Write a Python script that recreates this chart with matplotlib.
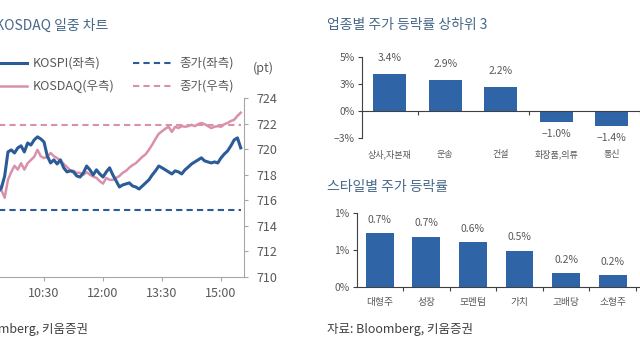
import numpy as np
import matplotlib.pyplot as plt

plt.rcParams['font.family'] = ['Noto Sans CJK KR', 'DejaVu Sans']

# intraday, 5-minute points from 09:00 (minutes after midnight)
times = np.arange(540, 935, 5)
kospi = [2476.0, 2473.3, 2474.8, 2472.1, 2473.3, 2474.8, 2479.5, 2488.9, 2489.7, 2488.5,
         2490.5, 2491.3, 2488.9, 2492.4, 2491.6, 2493.6, 2494.8, 2494.0, 2492.8, 2487.3,
         2484.6, 2485.8, 2484.2, 2485.8, 2482.7, 2481.1, 2481.5, 2481.1, 2479.5, 2479.1,
         2480.7, 2483.4, 2481.9, 2479.9, 2481.9, 2480.3, 2479.1, 2481.1, 2482.7, 2479.9,
         2477.6, 2475.2, 2476.0, 2476.4, 2476.8, 2475.6, 2475.2, 2474.4, 2475.6, 2476.8,
         2478.0, 2479.9, 2481.5, 2483.4, 2482.7, 2481.9, 2481.1, 2480.3, 2481.5, 2481.1,
         2480.3, 2481.9, 2483.0, 2484.2, 2485.0, 2485.8, 2486.6, 2485.4, 2485.0, 2484.6,
         2485.0, 2484.6, 2486.6, 2488.1, 2489.3, 2491.3, 2493.6, 2494.4, 2490.5]
kosdaq = [717.6, 717.2, 717.75, 717.0, 717.35, 716.8, 716.2, 717.6, 718.2, 718.7,
          718.4, 718.9, 718.4, 718.9, 719.15, 719.4, 719.95, 719.45, 719.3, 719.4,
          719.7, 719.45, 719.3, 719.1, 718.85, 718.6, 718.35, 718.3, 718.15, 718.15,
          718.0, 718.2, 718.0, 717.85, 717.75, 717.5, 717.3, 717.75, 717.6, 717.6,
          717.75, 717.9, 718.15, 718.3, 718.55, 718.75, 718.9, 719.15, 719.4, 719.6,
          719.95, 720.35, 720.8, 721.2, 721.4, 721.6, 721.75, 721.35, 721.75, 721.65,
          721.8, 721.75, 721.8, 721.9, 721.8, 721.95, 722.05, 721.95, 721.8, 721.65,
          721.75, 721.8, 721.75, 721.95, 722.05, 722.2, 722.3, 722.6, 722.85]
kospi_prev = 2466.3
kosdaq_prev = 721.9
time_ticks = [630, 720, 810, 900]
time_labels = ['10:30', '12:00', '13:30', '15:00']

sectors = ['상사,자본재', '운송', '건설', '화장품,의류', '통신']
sector_chg = [3.4, 2.9, 2.2, -1.0, -1.4]
sector_ticks = [-2.5, 0, 2.5, 5]
sector_ticklabels = ['−3%', '0%', '3%', '5%']

styles = ['대형주', '성장', '모멘텀', '가치', '고배당', '소형주']
style_chg = [0.73, 0.68, 0.61, 0.49, 0.19, 0.16]
style_ticks = [0, 0.5, 1.0]
style_ticklabels = ['0%', '1%', '1%']

GRAY = '#595959'
LIGHT = '#a6a6a6'
DARK = '#404040'
TITLE = '#46688a'
BLUE = '#2b5c98'
PINK = '#d991ab'
BAR = '#2f65a7'

fig = plt.figure(figsize=(6.4, 3.6), dpi=100)

# ---- intraday chart (left, partly cut off) ----
ax = fig.add_axes([-15/640, 1-277/360, 259/640, 179/360])
ax2 = ax.twinx()
ax.set_zorder(ax2.get_zorder() + 1)
ax.patch.set_visible(False)

dash = (0, (3, 2))
l1, = ax.plot(times, kospi, color=BLUE, lw=2.2, label='KOSPI(좌측)')
l2 = ax.hlines(kospi_prev, times[0], times[-1], color=BLUE, lw=1.5, linestyles=[dash], label='종가(좌측)')
l3, = ax2.plot(times, kosdaq, color=PINK, lw=1.8, label='KOSDAQ(우측)')
l4 = ax2.hlines(kosdaq_prev, times[0], times[-1], color=PINK, lw=1.5, linestyles=[dash], label='종가(우측)')

ax.set_xlim(540, 935)
ax.set_ylim(2440, 2510)
ax2.set_ylim(710, 724)
ax2.set_yticks(range(710, 725, 2))
for a in (ax, ax2):
    for s in a.spines.values():
        s.set_visible(False)
ax.spines['bottom'].set_visible(True)
ax.spines['bottom'].set_color(LIGHT)
ax2.spines['right'].set_visible(True)
ax2.spines['right'].set_color(LIGHT)
ax.tick_params(axis='y', left=False, labelleft=False)
ax.set_xticks(time_ticks, time_labels)
ax.tick_params(axis='x', length=3, color=LIGHT, labelsize=9, labelcolor=GRAY, pad=4)
ax2.tick_params(axis='y', length=3, color=LIGHT, labelsize=9, labelcolor=GRAY, pad=6)

fig.legend([l1, l3, l2, l4], ['KOSPI(좌측)', 'KOSDAQ(우측)', '종가(좌측)', '종가(우측)'],
           ncol=2, loc='upper left', bbox_to_anchor=(-14/640, 1-57/360), frameon=False,
           fontsize=9, labelcolor=GRAY, handlelength=3.3, handletextpad=0.4,
           columnspacing=1.5, labelspacing=0.8, borderpad=0, borderaxespad=0)
fig.text(253/640, 1-68/360, '(pt)', fontsize=9, color=GRAY, va='center')
fig.text(108/640, 1-25/360, 'KOSPI, KOSDAQ 일중 차트', fontsize=10, color=TITLE, ha='right', va='center')
fig.text(88/640, 1-329/360, '자료: Bloomberg, 키움증권', fontsize=9, color=DARK, ha='right', va='center')

# ---- sector chart (top right) ----
axb = fig.add_axes([362/640, 1-138/360, 333/640, 81/360])
xs = np.arange(len(sectors))
axb.bar(xs, sector_chg, width=0.6, color=BAR)
axb.set_xlim(-0.5, 5.5)
axb.set_ylim(-2.5, 5)
axb.set_yticks(sector_ticks, sector_ticklabels)
for s in ['top', 'right']:
    axb.spines[s].set_visible(False)
axb.spines['bottom'].set_position(('data', 0))
for s in ['left', 'bottom']:
    axb.spines[s].set_color(DARK)
axb.set_xticks([0.5, 2.5, 4.5], ['', '', ''])
axb.set_xticks(xs, sectors, minor=True)
axb.tick_params(axis='x', which='major', length=3, color=DARK)
axb.tick_params(axis='x', which='minor', length=0, pad=28, labelsize=6.5, labelcolor=GRAY)
axb.tick_params(axis='y', length=3, color=DARK, labelsize=7.5, labelcolor=GRAY, pad=2)
for xi, v in zip(xs, sector_chg):
    axb.annotate(f'{v:.1f}%'.replace('-', '−'), (xi, v), xytext=(0, 8 if v > 0 else -5),
                 textcoords='offset points', ha='center', va='bottom' if v > 0 else 'top',
                 fontsize=7.5, color=GRAY)
fig.text(327/640, 1-25/360, '업종별 주가 등락률 상하위 3', fontsize=10, color=TITLE, va='center')

# ---- style chart (bottom right) ----
axs = fig.add_axes([356.5/640, 1-287/360, 326/640, 74/360])
xs2 = np.arange(len(styles))
axs.bar(xs2, style_chg, width=0.6, color=BAR)
axs.set_xlim(-0.5, 6.5)
axs.set_ylim(0, 1.0)
axs.set_yticks(style_ticks, style_ticklabels)
for s in ['top', 'right']:
    axs.spines[s].set_visible(False)
for s in ['left', 'bottom']:
    axs.spines[s].set_color(DARK)
axs.set_xticks(np.arange(0.5, 6.6, 1), [''] * 7)
axs.set_xticks(xs2, styles, minor=True)
axs.tick_params(axis='x', which='major', length=3, color=DARK)
axs.tick_params(axis='x', which='minor', length=0, pad=7, labelsize=7, labelcolor=GRAY)
axs.tick_params(axis='y', length=3, color=DARK, labelsize=7.5, labelcolor=GRAY, pad=2)
for xi, v in zip(xs2, style_chg):
    axs.annotate(f'{v:.1f}%', (xi, v), xytext=(0, 6), textcoords='offset points',
                 ha='center', va='bottom', fontsize=7.5, color=GRAY)
fig.text(327/640, 1-187/360, '스타일별 주가 등락률', fontsize=10, color=TITLE, va='center')
fig.text(327/640, 1-329/360, '자료: Bloomberg, 키움증권', fontsize=9, color=DARK, va='center')

fig.savefig('out.png', dpi=100)
